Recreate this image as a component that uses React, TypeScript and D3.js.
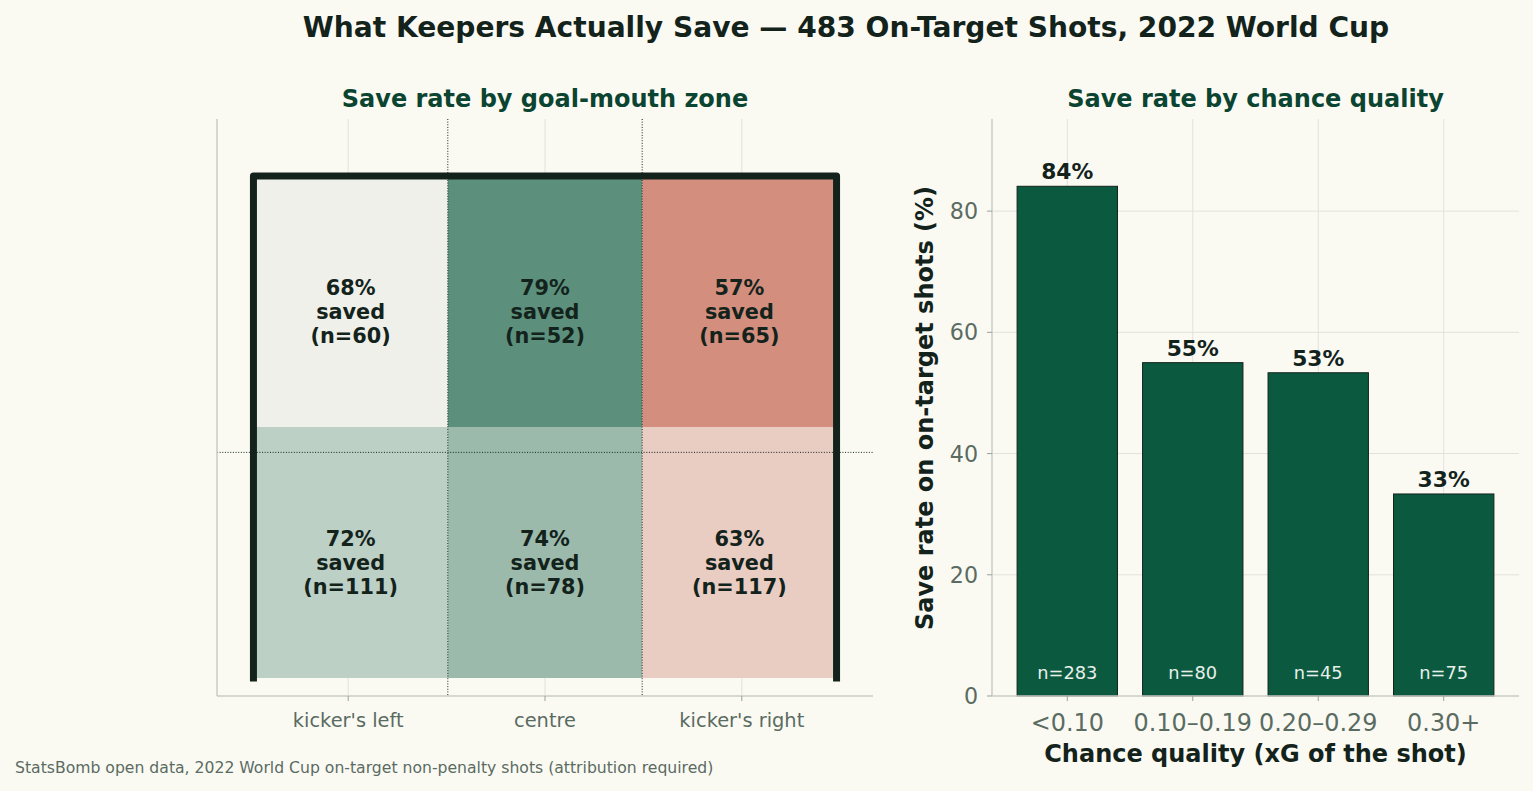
import * as d3 from "d3";
import { FC } from "react";

const W = 1533;
const H = 791;

// goal-mouth zones (StatsBomb goal coords: posts at y=36 and y=44, crossbar at 2.67)
const zoneCols = ["kicker's left", "centre", "kicker's right"];
const zoneTicks = [37.3, 40, 42.7];
const zoneRows = ["top", "bottom"];
const zoneShotsTop = [60, 52, 65];
const zoneSavedTop = [41, 41, 37];
const zoneShotsBottom = [111, 78, 117];
const zoneSavedBottom = [80, 58, 74];

// chance quality bins
const xgBins = ["<0.10", "0.10–0.19", "0.20–0.29", "0.30+"];
const xgShots = [283, 80, 45, 75];
const xgSaved = [238, 44, 24, 25];
const yTicks = [0, 20, 40, 60, 80];

const FONT = "DejaVu Sans";
const INK = "#13231c";
const SUB = "#0b4430";
const MUTED = "#5a6b62";
const GRID = "#e1e2db";
const SPINE = "#c9ccc5";
const BAR = "#0b5a40";

const GOAL_L = 36;
const GOAL_R = 44;
const GOAL_TOP = 2.67;

const App: FC = () => {
  // left panel
  const lx = d3.scaleLinear([35.5, 44.5], [217, 873]);
  const ly = d3.scaleLinear([-0.0957, 2.973], [696, 119]);
  const third = (GOAL_R - GOAL_L) / 3;
  const rowH = GOAL_TOP / 2;

  const totalSaved = d3.sum(xgSaved);
  const totalShots = d3.sum(xgShots);
  const mid = (100 * totalSaved) / totalShots;
  const color = d3
    .scaleDiverging(
      d3.piecewise(d3.interpolateRgb, [
        "#be5945",
        "#e6b9ad",
        "#eff1eb",
        "#7da695",
        BAR,
      ])
    )
    .domain([mid - 16, mid, mid + 16]);

  const cells = zoneRows.flatMap((row, r) =>
    zoneCols.map((col, c) => {
      const shots = r === 0 ? zoneShotsTop[c] : zoneShotsBottom[c];
      const saved = r === 0 ? zoneSavedTop[c] : zoneSavedBottom[c];
      const y0 = r === 0 ? rowH : 0;
      return {
        key: row + col,
        x0: GOAL_L + c * third,
        x1: GOAL_L + (c + 1) * third,
        y0,
        y1: y0 + rowH,
        shots,
        rate: (100 * saved) / shots,
      };
    })
  );

  const frame = d3.line<[number, number]>()
    .x((d) => lx(d[0]))
    .y((d) => ly(d[1]))([
    [GOAL_L, 0],
    [GOAL_L, GOAL_TOP],
    [GOAL_R, GOAL_TOP],
    [GOAL_R, 0],
  ]);

  // right panel
  const bx = d3
    .scaleBand<string>()
    .domain(xgBins)
    .range([992, 1519])
    .paddingInner(0.2)
    .paddingOuter(0.2);
  const by = d3.scaleLinear([0, 95.2], [696, 119]);
  const bars = xgBins.map((b, i) => ({
    bin: b,
    n: xgShots[i],
    rate: (100 * xgSaved[i]) / xgShots[i],
  }));

  return (
    <svg
      width={W}
      height={H}
      style={{ position: "absolute", left: 0, top: 0 }}
      fontFamily={FONT}
    >
      <rect width={W} height={H} fill="#fafaf3" />

      <text x={846} y={37} textAnchor="middle" fontSize={28.1} fontWeight="bold" fill={INK}>
        What Keepers Actually Save — 483 On-Target Shots, 2022 World Cup
      </text>

      {/* left: goal-mouth zones */}
      <g>
        <text x={545} y={107} textAnchor="middle" fontSize={24} fontWeight="bold" fill={SUB}>
          Save rate by goal-mouth zone
        </text>
        {zoneTicks.map((t) => (
          <line key={t} x1={lx(t)} x2={lx(t)} y1={119} y2={696} stroke={GRID} strokeWidth={1} />
        ))}
        {cells.map((d) => (
          <rect
            key={d.key}
            x={lx(d.x0)}
            y={ly(d.y1)}
            width={lx(d.x1) - lx(d.x0)}
            height={ly(d.y0) - ly(d.y1)}
            fill={color(d.rate)}
          />
        ))}
        {[GOAL_L + third, GOAL_L + 2 * third].map((v) => (
          <line key={v} x1={lx(v)} x2={lx(v)} y1={119} y2={696} stroke={INK} strokeWidth={1} strokeDasharray="1 1.65" />
        ))}
        <line x1={217} x2={873} y1={ly(1.2)} y2={ly(1.2)} stroke={INK} strokeWidth={1} strokeDasharray="1 1.65" />
        {cells.map((d) => {
          const cx = lx((d.x0 + d.x1) / 2);
          const cy = ly((d.y0 + d.y1) / 2) + 12;
          return (
            <text key={d.key} x={cx} textAnchor="middle" fontSize={20.8} fontWeight="bold" fill={INK}>
              <tspan x={cx} y={cy - 18}>{Math.round(d.rate)}%</tspan>
              <tspan x={cx} y={cy + 6}>saved</tspan>
              <tspan x={cx} y={cy + 30}>(n={d.shots})</tspan>
            </text>
          );
        })}
        <path d={frame ?? ""} fill="none" stroke={INK} strokeWidth={7} strokeLinejoin="round" strokeLinecap="square" />
        <line x1={217} x2={217} y1={119} y2={696} stroke={SPINE} strokeWidth={1.5} />
        <line x1={217} x2={873} y1={696} y2={696} stroke={SPINE} strokeWidth={1.5} />
        {zoneTicks.map((t, i) => (
          <g key={t}>
            <line x1={lx(t)} x2={lx(t)} y1={696} y2={701} stroke="#9aa19c" strokeWidth={1} />
            <text x={lx(t)} y={727} textAnchor="middle" fontSize={19.4} fill={MUTED}>
              {zoneCols[i]}
            </text>
          </g>
        ))}
      </g>

      {/* right: chance quality */}
      <g>
        <text x={1255.5} y={107} textAnchor="middle" fontSize={24} fontWeight="bold" fill={SUB}>
          Save rate by chance quality
        </text>
        {yTicks.slice(1).map((t) => (
          <line key={t} x1={992} x2={1519} y1={by(t)} y2={by(t)} stroke={GRID} strokeWidth={1} />
        ))}
        {xgBins.map((b) => {
          const cx = (bx(b) ?? 0) + bx.bandwidth() / 2;
          return <line key={b} x1={cx} x2={cx} y1={119} y2={696} stroke={GRID} strokeWidth={1} />;
        })}
        {bars.map((d) => {
          const x = bx(d.bin) ?? 0;
          const cx = x + bx.bandwidth() / 2;
          return (
            <g key={d.bin}>
              <rect
                x={x}
                y={by(d.rate)}
                width={bx.bandwidth()}
                height={by(0) - by(d.rate)}
                fill={BAR}
                stroke={INK}
                strokeWidth={1}
              />
              <text x={cx} y={by(d.rate) - 7} textAnchor="middle" fontSize={21.8} fontWeight="bold" fill={INK}>
                {Math.round(d.rate)}%
              </text>
              <text x={cx} y={by(0) - 17} textAnchor="middle" fontSize={17.8} fill="#e8f0ea">
                n={d.n}
              </text>
            </g>
          );
        })}
        <line x1={992} x2={992} y1={119} y2={696} stroke={SPINE} strokeWidth={1.5} />
        <line x1={992} x2={1519} y1={696} y2={696} stroke={SPINE} strokeWidth={1.5} />
        {yTicks.map((t) => (
          <g key={t}>
            <line x1={987} x2={992} y1={by(t)} y2={by(t)} stroke="#9aa19c" strokeWidth={1} />
            <text x={978} y={by(t)} dy="0.36em" textAnchor="end" fontSize={22.2} fill={MUTED}>
              {t}
            </text>
          </g>
        ))}
        {xgBins.map((b) => {
          const cx = (bx(b) ?? 0) + bx.bandwidth() / 2;
          return (
            <g key={b}>
              <line x1={cx} x2={cx} y1={696} y2={701} stroke="#9aa19c" strokeWidth={1} />
              <text x={cx} y={731} textAnchor="middle" fontSize={23.9} fill={MUTED}>
                {b}
              </text>
            </g>
          );
        })}
        <text x={1255.5} y={762} textAnchor="middle" fontSize={24} fontWeight="bold" fill={INK}>
          Chance quality (xG of the shot)
        </text>
        <text
          transform="translate(933, 408) rotate(-90)"
          textAnchor="middle"
          fontSize={24}
          fontWeight="bold"
          fill={INK}
        >
          Save rate on on-target shots (%)
        </text>
      </g>

      <text x={15} y={773} fontSize={15.65} fill={MUTED}>
        StatsBomb open data, 2022 World Cup on-target non-penalty shots (attribution required)
      </text>
    </svg>
  );
};

export default App;
